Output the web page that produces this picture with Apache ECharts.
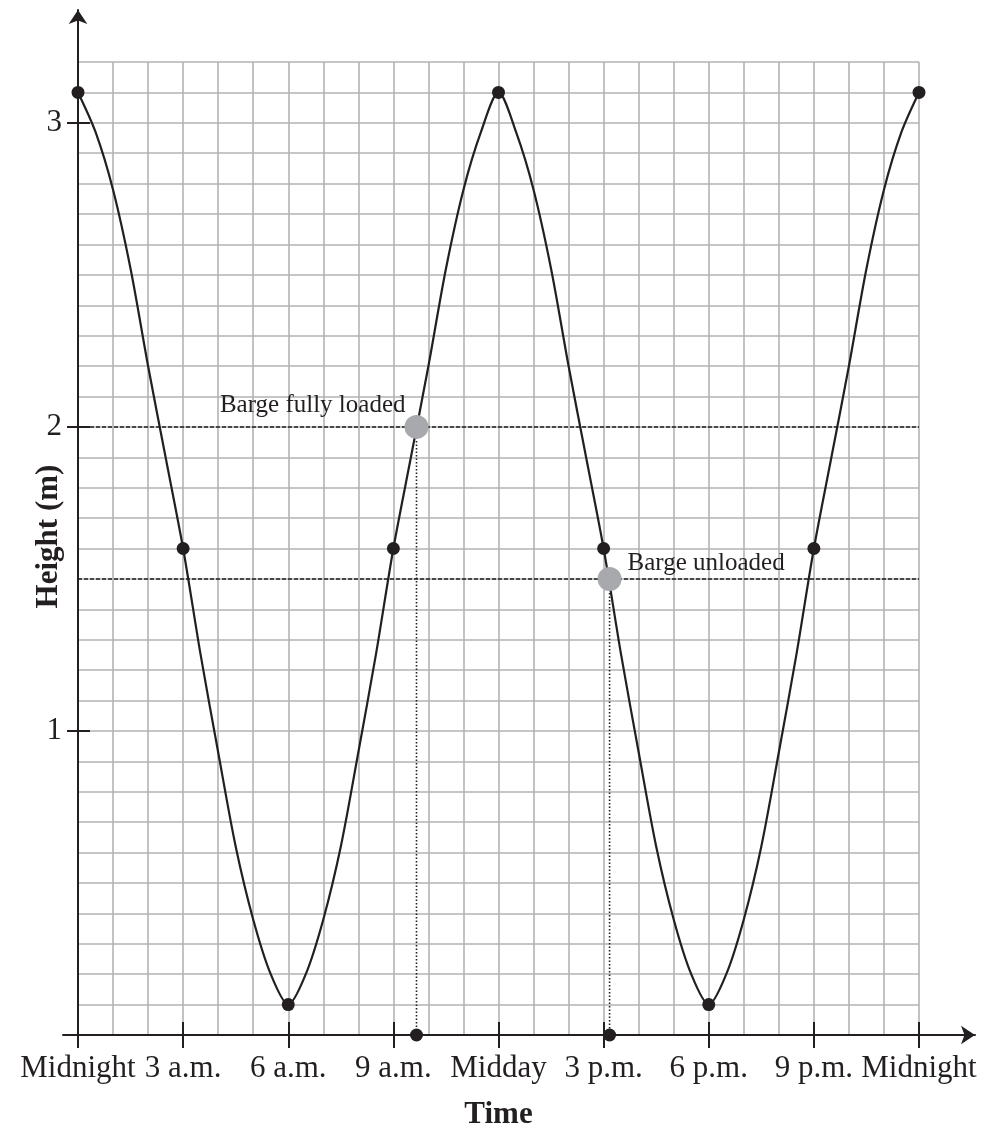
<!DOCTYPE html>
<html>
<head>
<meta charset="utf-8">
<script src="https://cdn.jsdelivr.net/npm/echarts@6/dist/echarts.min.js"></script>
<style>
  html, body { margin: 0; padding: 0; background: #fff; }
  #chart { width: 991px; height: 1128px; }
</style>
</head>
<body>
<div id="chart"></div>
<script>
// tide curve, read every half hour from the picture
const hours = [
  0, 0.5, 1, 1.5, 2, 2.5, 3, 3.5, 4, 4.5, 5, 5.5, 6,
  6.5, 7, 7.5, 8, 8.5, 9, 9.5, 10, 10.5, 11, 11.5, 12,
  12.5, 13, 13.5, 14, 14.5, 15, 15.5, 16, 16.5, 17, 17.5, 18,
  18.5, 19, 19.5, 20, 20.5, 21, 21.5, 22, 22.5, 23, 23.5, 24
];
const heights = [
  3.1, 2.97, 2.78, 2.52, 2.2, 1.9, 1.6, 1.25, 0.93, 0.62, 0.38, 0.2, 0.1,
  0.2, 0.38, 0.62, 0.93, 1.25, 1.6, 1.9, 2.2, 2.52, 2.78, 2.97, 3.1,
  2.97, 2.78, 2.52, 2.2, 1.9, 1.6, 1.25, 0.93, 0.62, 0.38, 0.2, 0.1,
  0.2, 0.38, 0.62, 0.93, 1.25, 1.6, 1.9, 2.2, 2.52, 2.78, 2.97, 3.1
];

// marked points on the curve
const keyTimes = [0, 3, 6, 9, 12, 15, 18, 21, 24];
const keyHeights = [3.1, 1.6, 0.1, 1.6, 3.1, 1.6, 0.1, 1.6, 3.1];

// barge events
const eventNames = ["Barge fully loaded", "Barge unloaded"];
const eventTimes = [9.66, 15.17];
const eventHeights = [2.0, 1.5];

// tick labels
const timeTicks = [0, 3, 6, 9, 12, 15, 18, 21, 24];
const timeLabels = ["Midnight", "3 a.m.", "6 a.m.", "9 a.m.", "Midday", "3 p.m.", "6 p.m.", "9 p.m.", "Midnight"];
const heightTicks = [1, 2, 3];

const ink = "#231f20";
const gridGray = "#b3b3b3";
const font = "Liberation Serif";

const chart = echarts.init(document.getElementById("chart"));

// plain axes sharing grid 0 – one for the grid lines, others for ticks
const timeAxis = (extra) => Object.assign({
  type: "value", gridIndex: 0, position: "bottom",
  min: 0, max: 24, interval: 1,
  axisLine: { show: false },
  splitLine: { show: false },
  axisTick: { show: false },
  axisLabel: { show: false }
}, extra);
const heightAxis = (extra) => Object.assign({
  type: "value", gridIndex: 0, position: "left",
  min: 0, max: 3.2, interval: 0.1,
  axisLine: { show: false },
  splitLine: { show: false },
  axisTick: { show: false },
  axisLabel: { show: false }
}, extra);
const tickStyle = { color: ink, width: 2 };

const dottedSeries = eventTimes.map((t, i) => ({
  type: "line",
  xAxisIndex: 0, yAxisIndex: 0,
  data: [[t, eventHeights[i]], [t, 0]],
  showSymbol: false,
  silent: true,
  clip: false,
  lineStyle: { color: ink, width: 1.6, type: [1.5, 2] },
  z: 3
}));

chart.setOption({
  animation: false,
  backgroundColor: "#fff",
  grid: [
    { left: 78, right: 72, top: 62, bottom: 93, outerBoundsMode: "none" },
    { left: 63, right: 16, top: 10, bottom: 93, outerBoundsMode: "none" }
  ],
  xAxis: [
    timeAxis({
      splitLine: { show: true, lineStyle: { color: gridGray, width: 1.6 } },
      name: "Time",
      nameLocation: "middle",
      nameGap: 64,
      nameMoveOverlap: false,
      nameTextStyle: { color: ink, fontFamily: font, fontSize: 31, fontWeight: "bold" }
    }),
    timeAxis({
      axisTick: { show: true, customValues: timeTicks, length: 13, lineStyle: tickStyle },
      axisLabel: {
        show: true,
        customValues: timeTicks,
        margin: 18,
        color: ink, fontFamily: font, fontSize: 31,
        formatter: (v) => timeLabels[timeTicks.indexOf(Math.round(v))] || ""
      }
    }),
    timeAxis({
      axisTick: { show: true, inside: true, customValues: timeTicks, length: 13, lineStyle: tickStyle }
    }),
    {
      type: "value", gridIndex: 1, position: "bottom",
      min: -15, max: 897,
      axisLine: { show: true, onZero: true, symbol: ["none", "arrow"], symbolSize: [14, 14], lineStyle: { color: ink, width: 2 } },
      splitLine: { show: false },
      axisTick: { show: false },
      axisLabel: { show: false }
    }
  ],
  yAxis: [
    heightAxis({
      splitLine: { show: true, lineStyle: { color: gridGray, width: 1.6 } },
      name: "Height (m)",
      nameLocation: "middle",
      nameRotate: 90,
      nameGap: 14,
      nameMoveOverlap: false,
      nameTextStyle: { color: ink, fontFamily: font, fontSize: 31, fontWeight: "bold", padding: [0, 0, 0, 24] }
    }),
    heightAxis({
      axisTick: { show: true, customValues: heightTicks, length: 11, lineStyle: tickStyle },
      axisLabel: {
        show: true,
        customValues: heightTicks,
        margin: 16,
        color: ink, fontFamily: font, fontSize: 31,
        formatter: (v) => String(Math.round(v))
      }
    }),
    heightAxis({
      axisTick: { show: true, inside: true, customValues: heightTicks, length: 12, lineStyle: tickStyle }
    }),
    {
      type: "value", gridIndex: 1, position: "left",
      min: 0, max: 100,
      axisLine: { show: true, onZero: true, symbol: ["none", "arrow"], symbolSize: [14, 14], lineStyle: { color: ink, width: 2 } },
      splitLine: { show: false },
      axisTick: { show: false },
      axisLabel: { show: false }
    }
  ],
  series: [
    {
      name: "levels",
      type: "line",
      xAxisIndex: 0, yAxisIndex: 0,
      data: [],
      markLine: {
        silent: true,
        symbol: "none",
        label: { show: false },
        lineStyle: { color: ink, width: 1.5, type: [4, 2] },
        data: eventHeights.map((h) => ({ yAxis: h }))
      },
      z: 2
    },
    {
      name: "tide",
      type: "line",
      xAxisIndex: 0, yAxisIndex: 0,
      data: hours.map((h, i) => [h, heights[i]]),
      smooth: 0.3,
      showSymbol: false,
      clip: false,
      lineStyle: { color: ink, width: 2.2 },
      z: 3
    },
    ...dottedSeries,
    {
      name: "key points",
      type: "scatter",
      xAxisIndex: 0, yAxisIndex: 0,
      data: keyTimes.map((t, i) => [t, keyHeights[i]]),
      symbolSize: 13,
      clip: false,
      itemStyle: { color: ink, opacity: 1 },
      z: 4
    },
    {
      name: "axis points",
      type: "scatter",
      xAxisIndex: 0, yAxisIndex: 0,
      data: eventTimes.map((t) => [t, 0]),
      symbolSize: 13,
      clip: false,
      itemStyle: { color: ink, opacity: 1 },
      z: 4
    },
    {
      name: "events",
      type: "scatter",
      xAxisIndex: 0, yAxisIndex: 0,
      data: eventTimes.map((t, i) => ({
        value: [t, eventHeights[i]],
        name: eventNames[i],
        label: i === 0
          ? { position: "left", offset: [6, -21] }
          : { position: "right", offset: [1, -15] }
      })),
      symbolSize: 24,
      clip: false,
      itemStyle: { color: "#a7a9ac", opacity: 1 },
      label: {
        show: true,
        formatter: (p) => p.name,
        color: ink, opacity: 1, fontFamily: font, fontSize: 25
      },
      z: 5
    }
  ]
});
</script>
</body>
</html>
